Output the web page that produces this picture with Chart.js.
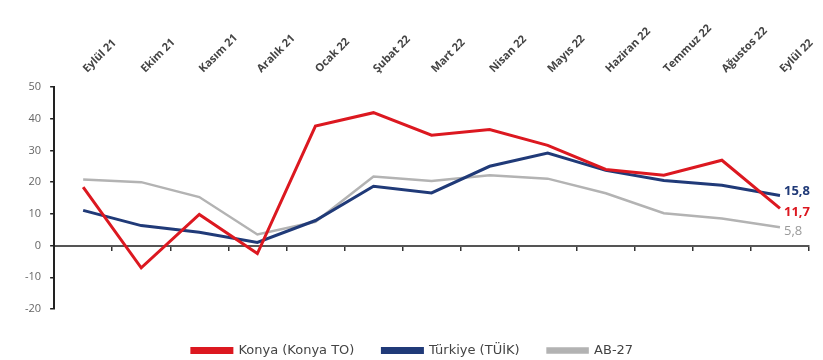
<!DOCTYPE html>
<html>
<head>
<meta charset="utf-8">
<script src="https://cdn.jsdelivr.net/npm/chart.js@4/dist/chart.umd.min.js"></script>
<style>
  html,body{margin:0;padding:0;background:#fff;}
  #wrap{width:823px;height:360px;position:relative;}
</style>
</head>
<body>
<div id="wrap"><canvas id="c"></canvas></div>
<script>
const months = ['Eylül 21','Ekim 21','Kasım 21','Aralık 21','Ocak 22','Şubat 22','Mart 22','Nisan 22','Mayıs 22','Haziran 22','Temmuz 22','Ağustos 22','Eylül 22'];
const konya = [18.4, -7.0, 9.8, -2.5, 37.7, 41.9, 34.8, 36.6, 31.6, 24.0, 22.2, 26.9, 11.7];
const turkiye = [11.1, 6.3, 4.2, 1.0, 7.9, 18.7, 16.6, 25.0, 29.2, 23.7, 20.5, 19.0, 15.8];
const ab27 = [20.8, 20.0, 15.3, 3.5, 7.5, 21.8, 20.4, 22.2, 21.1, 16.5, 10.2, 8.5, 5.8];
const seriesNames = ['Konya (Konya TO)', 'Türkiye (TÜİK)', 'AB-27'];
const endLabels = ['11,7', '15,8', '5,8'];
const yTicks = [-20, -10, 0, 10, 20, 30, 40, 50];

const colors = ['#dc1820', '#203a78', '#b3b3b3'];
const FONT = '"Open Sans", "Liberation Sans", sans-serif';

// month names above the plot, slanted like the original
const topLabelPlugin = {
  id: 'topLabels',
  afterDraw(chart){
    const ctx = chart.ctx, xs = chart.scales.x;
    ctx.save();
    ctx.fillStyle = '#444';
    ctx.font = 'bold 11px ' + FONT;
    ctx.textAlign = 'left';
    ctx.textBaseline = 'alphabetic';
    months.forEach((m, i) => {
      ctx.save();
      ctx.translate(xs.getPixelForValue(i) + 4, 73);
      ctx.rotate(-Math.PI / 4);
      ctx.fillText(m, 0, 0);
      ctx.restore();
    });
    ctx.restore();
  }
};

// last-value labels next to the final point of each series
const endLabelPlugin = {
  id: 'endLabels',
  afterDatasetsDraw(chart){
    const ctx = chart.ctx;
    const dy = [4, -4, 4];
    ctx.save();
    ctx.textBaseline = 'middle';
    ctx.textAlign = 'left';
    chart.data.datasets.forEach((ds, i) => {
      const meta = chart.getDatasetMeta(i);
      const pt = meta.data[meta.data.length - 1];
      ctx.fillStyle = i === 2 ? '#9a9a9a' : colors[i];
      ctx.font = (i === 2 ? '' : 'bold ') + '13px ' + FONT;
      ctx.fillText(endLabels[i], pt.x + 4, pt.y + dy[i]);
    });
    ctx.restore();
  }
};

new Chart(document.getElementById('c'), {
  type: 'line',
  data: {
    labels: months,
    datasets: [
      {label: seriesNames[0], data: konya, borderColor: colors[0], backgroundColor: colors[0], borderWidth: 3},
      {label: seriesNames[1], data: turkiye, borderColor: colors[1], backgroundColor: colors[1], borderWidth: 3},
      {label: seriesNames[2], data: ab27, borderColor: colors[2], backgroundColor: colors[2], borderWidth: 2.5}
    ]
  },
  options: {
    responsive: true, maintainAspectRatio: false, animation: false,
    layout: {padding: {left: 16, right: 14, top: 87, bottom: -7}},
    elements: {point: {radius: 0}, line: {tension: 0}},
    plugins: {
      tooltip: {enabled: false},
      legend: {
        position: 'bottom',
        labels: {boxWidth: 40, boxHeight: 4, color: '#444', font: {family: '"DejaVu Sans", sans-serif', size: 13}, padding: 28}
      }
    },
    scales: {
      x: {
        position: 'bottom', offset: true,
        grid: {display: false}, border: {display: false},
        ticks: {display: false},
        afterFit: s => { s.height = 7; }
      },
      x0: {
        type: 'category', axis: 'x', labels: months, position: {y: 0}, offset: true,
        grid: {offset: true, drawOnChartArea: false, tickLength: 4, color: '#333', lineWidth: 1.5},
        border: {display: true, color: '#555', width: 2},
        ticks: {display: false}
      },
      y: {
        min: -20, max: 50,
        afterBuildTicks: s => { s.ticks = yTicks.map(v => ({value: v})); },
        grid: {drawOnChartArea: false, tickLength: 4, color: '#222', lineWidth: 1.5},
        border: {display: true, color: '#222', width: 2},
        ticks: {color: '#666', font: {family: FONT, size: 11}, padding: 9}
      }
    }
  },
  plugins: [topLabelPlugin, endLabelPlugin]
});
</script>
</body>
</html>
